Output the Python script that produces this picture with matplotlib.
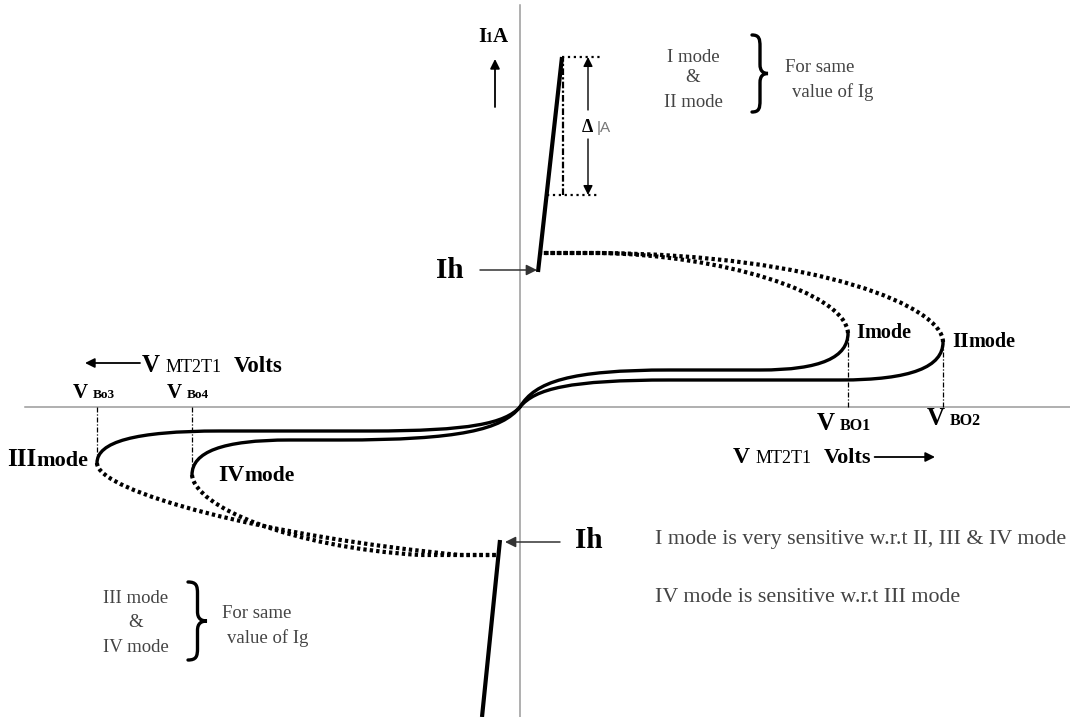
import numpy as np
import matplotlib
matplotlib.use('Agg')
import matplotlib.pyplot as plt
from matplotlib.path import Path
from matplotlib.patches import PathPatch

plt.rcParams['font.family'] = ['Liberation Serif', 'DejaVu Serif']

# blocking-state curves, one entry per mode: I, II, III, IV
modes = ['I', 'II', 'III', 'IV']
v_bo = [328, 423, -423, -328]      # breakover voltage of each mode
i_bo = [74, 65, -56, -68]          # current at breakover
i_flat = [37, 27, -24, -33]        # level of the flat part of the curve
v_knee = [150, 150, -150, -180]    # where the curve levels off
v_rise = [240, 320, -300, -230]    # where it starts bending up to breakover

# holding current levels (forward, reverse)
i_hold = [154, -148]
# dotted return from breakover back to the holding level
v_join = [80, 80, -60, -100]
ret_c1 = [(325, 115), (423, 100), (-423, -85), (-325, -100)]
ret_c2 = [(200, 152), (300, 152), (-250, -130), (-230, -140)]

# on-state lines (forward, reverse)
on_v = [[18, 42], [-20, -38]]
on_i = [[135, 350], [-133, -310]]
# delta IA band on the forward on-state line
d_ia = [212, 350]

fig = plt.figure(figsize=(10.7, 7.17), dpi=100)
ax = fig.add_axes([0, 0, 1, 1])
ax.set_xlim(-520, 550)
ax.set_ylim(-310, 407)
ax.axis('off')

# axes of the diagram
ax.plot([-495, 550], [0, 0], color='#9a9a9a', lw=1.1, zorder=1)
ax.plot([0, 0], [-310, 402], color='#9a9a9a', lw=1.1, zorder=1)

M, C, L = Path.MOVETO, Path.CURVE4, Path.LINETO

# blocking curves and dotted returns
for k in range(4):
    vb, ib, fl, kn, rs = v_bo[k], i_bo[k], i_flat[k], v_knee[k], v_rise[k]
    verts = [(0, 0), (0.1 * kn, 0.68 * fl), (0.33 * kn, fl), (kn, fl),
             (rs, fl),
             (rs + 0.7 * (vb - rs), fl), (vb, fl + 0.35 * (ib - fl)), (vb, ib)]
    codes = [M, C, C, C, L, C, C, C]
    ax.add_patch(PathPatch(Path(verts, codes), fill=False, lw=2.4, ec='k',
                           capstyle='round', zorder=3))

    side = 0 if k < 2 else 1
    ih = i_hold[side]
    iv = on_i[side] if side == 0 else on_i[side][::-1]
    vv = on_v[side] if side == 0 else on_v[side][::-1]
    v_on = np.interp(ih, iv, vv)
    verts = [(vb, ib), ret_c1[k], ret_c2[k], (v_join[k], ih), (v_on, ih)]
    codes = [M, C, C, C, L]
    ax.add_patch(PathPatch(Path(verts, codes), fill=False, lw=3.0, ec='k',
                           linestyle=(0, (0.8, 0.75)), capstyle='butt', zorder=3))

    # breakover marker lines
    ax.plot([vb, vb], [0, ib], color='k', lw=0.9, linestyle=(0, (4, 1.5, 1, 1.5)), zorder=2)

# on-state lines
for s in range(2):
    ax.plot(on_v[s], on_i[s], color='k', lw=3.0, solid_capstyle='butt', zorder=4)

# delta IA construction
v_top = on_v[0][1]
v_bot = np.interp(d_ia[0], on_i[0], on_v[0])
ax.plot([v_top, 80], [d_ia[1], d_ia[1]], color='k', lw=1.6, linestyle=':', zorder=2)
ax.plot([v_top + 1, v_top + 1], d_ia, color='k', lw=1.6, linestyle=(0, (3, 1, 1, 1)), zorder=2)
ax.plot([v_bot, 80], [d_ia[0], d_ia[0]], color='k', lw=1.6, linestyle=':', zorder=2)

arr = dict(arrowstyle='-|>', color='k', lw=1.0, mutation_scale=14, shrinkA=0, shrinkB=0)
ax.annotate('', xy=(68, d_ia[1]), xytext=(68, 297), arrowprops=arr)
ax.annotate('', xy=(68, d_ia[0]), xytext=(68, 268), arrowprops=arr)
ax.text(62, 275, 'Δ', fontsize=13, fontweight='bold', va='baseline')
ax.text(77, 275, '|A', fontsize=11, color='#777777', family='Liberation Sans', va='baseline')

# holding current arrows
arr2 = dict(arrowstyle='-|>', color='#333333', lw=1.1, mutation_scale=16, shrinkA=0, shrinkB=0)
ax.annotate('', xy=(17, 137), xytext=(-40, 137), arrowprops=arr2)
ax.annotate('', xy=(-15, -135), xytext=(40, -135), arrowprops=arr2)
ax.text(-84, 137, 'Ih', fontsize=21, fontweight='bold', va='center')
ax.text(55, -133, 'Ih', fontsize=21, fontweight='bold', va='center')

fig.canvas.draw()
r = fig.canvas.get_renderer()


def chain(x, y, parts, color='k'):
    # parts: (text, size, weight, gap before)
    for txt, size, wt, gap in parts:
        t = ax.text(x + gap, y, txt, fontsize=size, fontweight=wt, va='baseline', color=color)
        bb = t.get_window_extent(renderer=r)
        x = ax.transData.inverted().transform((bb.x1, bb.y0))[0]
    return x


# current axis label
chain(-42, 365, [('I', 15, 'bold', 0), ('1', 10, 'bold', 0), ('A', 15, 'bold', 0)])
ax.annotate('', xy=(-25, 348), xytext=(-25, 300), arrowprops=dict(arr, lw=1.3))

# mode labels
chain(336, 69, [('I', 15, 'bold', 0), ('mode', 14.5, 'bold', 0)])
chain(432, 60, [('II', 15, 'bold', 0), ('mode', 14.5, 'bold', 0)])
chain(-513, -59, [('III', 18, 'bold', 0), ('mode', 16, 'bold', 0)])
chain(-302, -74, [('IV', 17, 'bold', 0), ('mode', 15.5, 'bold', 0)])

# breakover voltage labels
chain(297, -23, [('V', 18, 'bold', 0), ('BO1', 11.5, 'bold', 5)])
chain(407, -18, [('V', 18, 'bold', 0), ('BO2', 11.5, 'bold', 5)])
chain(-447, 9, [('V', 15, 'bold', 0), ('Bo3', 9.5, 'bold', 5)])
chain(-353, 9, [('V', 15, 'bold', 0), ('Bo4', 9.5, 'bold', 5)])

# voltage axis labels
chain(-378, 35, [('V', 18, 'bold', 0), ('MT2T1', 13, 'normal', 6), ('Volts', 16.5, 'bold', 12)])
ax.annotate('', xy=(-435, 44), xytext=(-380, 44), arrowprops=dict(arr, lw=1.3))
x_end = chain(213, -56, [('V', 17, 'bold', 0), ('MT2T1', 13, 'normal', 6), ('Volts', 16, 'bold', 12)])
ax.annotate('', xy=(415, -50), xytext=(x_end + 3, -50), arrowprops=dict(arr, lw=1.3))


def brace(x0, x1, ytop, ybot, lw=2.4):
    w = x1 - x0
    h = ytop - ybot
    ym = (ytop + ybot) / 2
    xm = x0 + 0.5 * w
    verts = [(x0, ytop), (x0 + 0.45 * w, ytop), (xm, ytop - 0.05 * h), (xm, ytop - 0.15 * h),
             (xm, ym + 0.12 * h),
             (xm, ym + 0.03 * h), (x0 + 0.7 * w, ym), (x1, ym),
             (x0 + 0.7 * w, ym), (xm, ym - 0.03 * h), (xm, ym - 0.12 * h),
             (xm, ybot + 0.15 * h),
             (xm, ybot + 0.05 * h), (x0 + 0.45 * w, ybot), (x0, ybot)]
    codes = [M, C, C, C, L, C, C, C, C, C, C, L, C, C, C]
    ax.add_patch(PathPatch(Path(verts, codes), fill=False, lw=lw, ec='k',
                           capstyle='round', zorder=3))


grey = '#444444'
for txt, y in zip(['I mode', '&', 'II mode'], [345, 325, 300]):
    ax.text(173, y, txt, fontsize=13.5, ha='center', va='baseline', color=grey)
brace(232, 248, 372, 295)
ax.text(265, 335, 'For same', fontsize=13.5, va='baseline', color=grey)
ax.text(272, 310, 'value of Ig', fontsize=13.5, va='baseline', color=grey)

for txt, y in zip(['III mode', '&', 'IV mode'], [-196, -220, -245]):
    ax.text(-384, y, txt, fontsize=13.5, ha='center', va='baseline', color=grey)
brace(-332, -313, -175, -253)
ax.text(-298, -211, 'For same', fontsize=13.5, va='baseline', color=grey)
ax.text(-293, -236, 'value of Ig', fontsize=13.5, va='baseline', color=grey)

ax.text(135, -137, 'I mode is very sensitive w.r.t II, III & IV mode', fontsize=15.8,
        va='baseline', color=grey)
ax.text(135, -195, 'IV mode is sensitive w.r.t III mode', fontsize=15.8,
        va='baseline', color=grey)

fig.savefig('out.png', dpi=100)
